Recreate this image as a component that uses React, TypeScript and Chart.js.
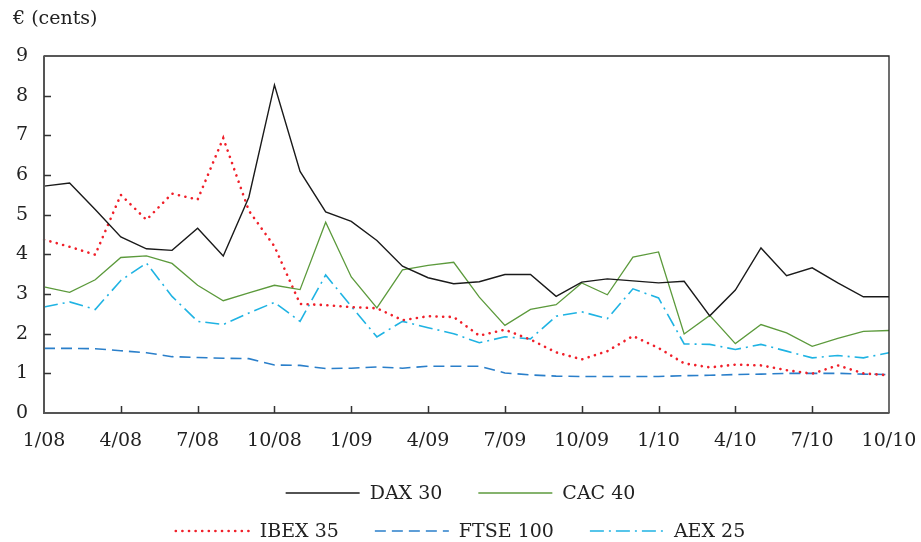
import React, { useEffect, useRef } from "react";
import { Chart, registerables } from "chart.js";

Chart.register(...registerables);

const months = [
  "1/08", "2/08", "3/08", "4/08", "5/08", "6/08", "7/08", "8/08", "9/08", "10/08", "11/08", "12/08",
  "1/09", "2/09", "3/09", "4/09", "5/09", "6/09", "7/09", "8/09", "9/09", "10/09", "11/09", "12/09",
  "1/10", "2/10", "3/10", "4/10", "5/10", "6/10", "7/10", "8/10", "9/10", "10/10",
];
const tickLabels = ["1/08", "4/08", "7/08", "10/08", "1/09", "4/09", "7/09", "10/09", "1/10", "4/10", "7/10", "10/10"];
const yTicks = [0, 1, 2, 3, 4, 5, 6, 7, 8, 9];

const dax = [
  5.72, 5.8, 5.13, 4.44, 4.14, 4.1, 4.66, 3.96, 5.44, 8.27, 6.09, 5.07,
  4.83, 4.35, 3.7, 3.41, 3.26, 3.31, 3.49, 3.49, 2.94, 3.3, 3.38, 3.33,
  3.28, 3.32, 2.45, 3.1, 4.16, 3.46, 3.66, 3.28, 2.93, 2.93,
];
const cac = [
  3.18, 3.04, 3.36, 3.92, 3.96, 3.77, 3.22, 2.83, 3.03, 3.22, 3.11, 4.81,
  3.43, 2.65, 3.61, 3.72, 3.8, 2.92, 2.21, 2.61, 2.73, 3.28, 2.98, 3.93,
  4.06, 1.99, 2.46, 1.75, 2.23, 2.02, 1.68, 1.88, 2.06, 2.08,
];
const ibex = [
  4.37, 4.19, 3.99, 5.5, 4.87, 5.53, 5.38, 6.93, 5.1, 4.2, 2.75, 2.72,
  2.67, 2.64, 2.34, 2.44, 2.42, 1.95, 2.1, 1.85, 1.53, 1.35, 1.56, 1.94,
  1.64, 1.25, 1.15, 1.22, 1.2, 1.08, 0.99, 1.2, 1.0, 0.95,
];
const ftse = [
  1.63, 1.63, 1.62, 1.57, 1.52, 1.42, 1.4, 1.38, 1.37, 1.21, 1.2, 1.12,
  1.13, 1.16, 1.13, 1.18, 1.18, 1.18, 1.01, 0.96, 0.93, 0.92, 0.92, 0.92,
  0.92, 0.94, 0.95, 0.97, 0.98, 1.0, 1.0, 1.0, 0.98, 0.97,
];
const aex = [
  2.67, 2.8, 2.61, 3.34, 3.78, 2.94, 2.31, 2.23, 2.52, 2.79, 2.31, 3.48,
  2.69, 1.92, 2.31, 2.15, 2.0, 1.77, 1.92, 1.87, 2.44, 2.55, 2.38, 3.13,
  2.9, 1.74, 1.73, 1.6, 1.73, 1.56, 1.39, 1.45, 1.39, 1.52,
];

const FONT = "'DejaVu Serif', serif";
const TEXT = "#222";
const FS = 19;

const framePlugin = {
  id: "frameTicks",
  afterDraw(chart: any) {
    const { ctx, chartArea, scales } = chart;
    const { left, right, top, bottom } = chartArea;
    const x = scales.x;
    const y = scales.y;
    ctx.save();
    ctx.strokeStyle = "#222";
    ctx.lineWidth = 1.3;
    ctx.beginPath();
    ctx.moveTo(left, top);
    ctx.lineTo(right, top);
    ctx.lineTo(right, bottom);
    ctx.stroke();
    ctx.strokeStyle = "#555";
    ctx.lineWidth = 2;
    ctx.beginPath();
    ctx.moveTo(left, top - 0.5);
    ctx.lineTo(left, bottom);
    ctx.lineTo(right + 0.5, bottom);
    ctx.stroke();
    ctx.lineWidth = 1.5;
    ctx.strokeStyle = "#333";
    ctx.beginPath();
    yTicks.forEach((v) => {
      if (v === yTicks[0] || v === yTicks[yTicks.length - 1]) return;
      const py = Math.round(y.getPixelForValue(v)) + 0.5;
      ctx.moveTo(left, py);
      ctx.lineTo(left + 7, py);
    });
    months.forEach((m, i) => {
      if (!tickLabels.includes(m) || i === 0 || i === months.length - 1) return;
      const px = Math.round(x.getPixelForValue(i)) + 0.5;
      ctx.moveTo(px, bottom);
      ctx.lineTo(px, bottom - 7);
    });
    ctx.stroke();

    ctx.fillStyle = TEXT;
    ctx.font = `${FS}px ${FONT}`;
    ctx.textBaseline = "middle";
    ctx.textAlign = "left";
    ctx.fillText("€ (cents)", 13, 19);

    const rows = [
      [0, 1],
      [2, 3, 4],
    ];
    const rowY = [493, 531];
    const lineLen = 74;
    const gap = 10;
    const spacing = 36;
    rows.forEach((row, ri) => {
      const widths = row.map((di) => lineLen + gap + ctx.measureText(chart.data.datasets[di].label).width);
      const total = widths.reduce((a, b) => a + b, 0) + spacing * (row.length - 1);
      let cx = (chart.width - total) / 2;
      row.forEach((di, k) => {
        const ds = chart.data.datasets[di];
        ctx.save();
        ctx.strokeStyle = ds.borderColor;
        ctx.lineWidth = ds.borderWidth;
        ctx.lineCap = ds.borderCapStyle || "butt";
        ctx.setLineDash(ds.borderDash || []);
        ctx.beginPath();
        ctx.moveTo(cx, rowY[ri]);
        ctx.lineTo(cx + lineLen, rowY[ri]);
        ctx.stroke();
        ctx.restore();
        ctx.fillStyle = TEXT;
        ctx.fillText(ds.label, cx + lineLen + gap, rowY[ri] + 1);
        cx += widths[k] + spacing;
      });
    });
    ctx.restore();
  },
};

export default function App() {
  const ref = useRef<HTMLCanvasElement>(null);
  useEffect(() => {
    if (!ref.current) return;
    const chart = new Chart(ref.current, {
      type: "line",
      data: {
        labels: months,
        datasets: [
          { label: "DAX 30", data: dax, borderColor: "#1a1a1a", borderWidth: 1.4 },
          { label: "CAC 40", data: cac, borderColor: "#5c9a3c", borderWidth: 1.3 },
          {
            label: "IBEX 35",
            data: ibex,
            borderColor: "#f0202a",
            borderWidth: 2.6,
            borderDash: [0.1, 6.5],
            borderCapStyle: "round",
          },
          { label: "FTSE 100", data: ftse, borderColor: "#2a7fca", borderWidth: 1.6, borderDash: [11, 6] },
          { label: "AEX 25", data: aex, borderColor: "#1fb3e3", borderWidth: 1.6, borderDash: [14, 5, 2, 5] },
        ] as any,
      },
      options: {
        responsive: false,
        animation: false,
        layout: { padding: { top: 56, right: 32, left: 0, bottom: 0 } },
        elements: { point: { radius: 0 }, line: { tension: 0 } },
        plugins: { legend: { display: false }, tooltip: { enabled: false } },
        scales: {
          x: {
            type: "category",
            offset: false,
            grid: { display: false, drawTicks: false },
            border: { display: false },
            ticks: {
              autoSkip: false,
              maxRotation: 0,
              minRotation: 0,
              padding: 17,
              color: TEXT,
              font: { family: FONT, size: FS },
              callback: (v: any, i: number) => (tickLabels.includes(months[i]) ? months[i] : ""),
            },
            afterFit: (s: any) => {
              s.height = 129;
              s.paddingLeft = 0;
              s.paddingRight = 0;
            },
          },
          y: {
            min: 0,
            max: 9,
            grid: { display: false, drawTicks: false },
            border: { display: false },
            ticks: {
              stepSize: 1,
              padding: 16,
              color: TEXT,
              font: { family: FONT, size: FS },
            },
            afterFit: (s: any) => {
              s.width = 44;
              s.paddingTop = 0;
              s.paddingBottom = 0;
            },
          },
        },
      },
      plugins: [framePlugin],
    });
    return () => chart.destroy();
  }, []);
  return (
    <div style={{ position: "fixed", left: 0, top: 0, width: 921, height: 542, background: "#fff" }}>
      <canvas ref={ref} width={921} height={542} style={{ width: 921, height: 542 }} />
    </div>
  );
}
